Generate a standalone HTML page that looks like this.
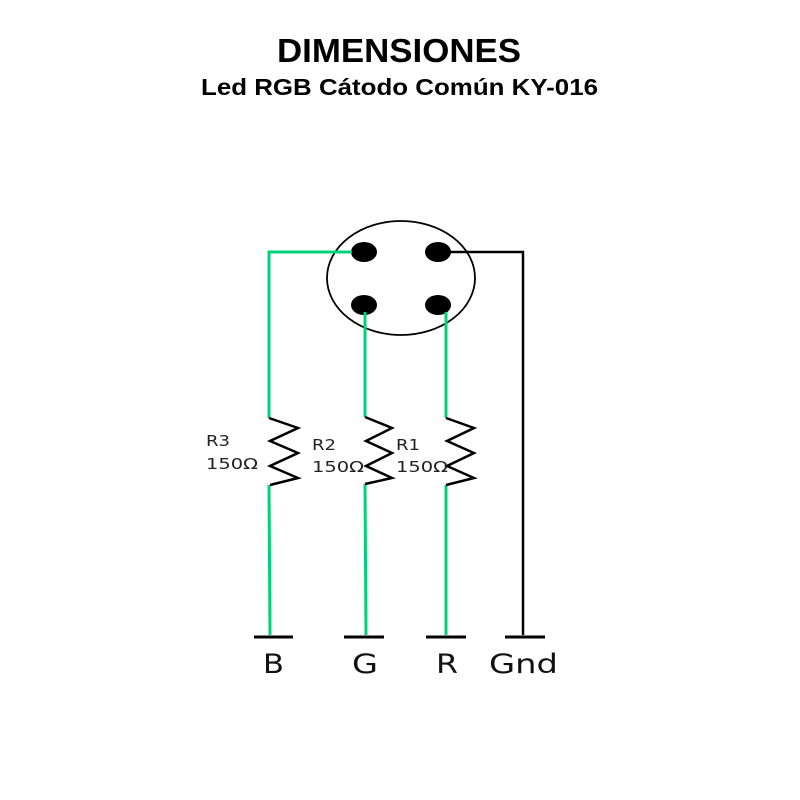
<!DOCTYPE html>
<html><head><meta charset="utf-8"><style>
html,body{margin:0;padding:0;background:#fff;}
svg{display:block;}
</style></head><body>
<svg width="800" height="800" viewBox="0 0 800 800" xmlns="http://www.w3.org/2000/svg">
<rect width="800" height="800" fill="#fff"/>
<text x="277" y="62" textLength="244" lengthAdjust="spacingAndGlyphs" font-family="Liberation Sans, sans-serif" font-weight="bold" font-size="33">DIMENSIONES</text>
<text x="201" y="95" textLength="397" lengthAdjust="spacingAndGlyphs" font-family="Liberation Sans, sans-serif" font-weight="bold" font-size="23">Led RGB Cátodo Común KY-016</text>

<ellipse cx="401" cy="278" rx="74" ry="57" fill="none" stroke="#000" stroke-width="1.8"/>
<g fill="#000">
<ellipse cx="364" cy="252" rx="13" ry="10"/>
<ellipse cx="438" cy="252" rx="13" ry="10"/>
<ellipse cx="364" cy="305" rx="13" ry="10"/>
<ellipse cx="438" cy="305" rx="13" ry="10"/>
</g>
<g fill="none" stroke="#00d27a" stroke-width="3">
<polyline points="352,252 269,252 269,418"/>
<line x1="269" y1="485" x2="270" y2="635"/>
<line x1="365" y1="312" x2="365" y2="417"/>
<line x1="365" y1="484" x2="366" y2="635"/>
<line x1="446" y1="312" x2="446" y2="418"/>
<line x1="446" y1="485" x2="446" y2="635"/>
</g>
<g fill="none" stroke="#000" stroke-width="2.5" stroke-linejoin="miter">
<polyline points="269,418 298,428 270,441 298,453 270,466 298,478 270,485"/>
<polyline points="365,417 392,428 366,441 392,453 366,466 392,478 365,484"/>
<polyline points="446,418 474,428 447,441 474,453 447,466 474,478 446,485"/>
</g>
<polyline points="450,252 523,252 523,635" fill="none" stroke="#000" stroke-width="2.5"/>
<g stroke="#000" stroke-width="3">
<line x1="254" y1="637" x2="293" y2="637"/>
<line x1="344" y1="637" x2="384" y2="637"/>
<line x1="426" y1="637" x2="466" y2="637"/>
<line x1="505" y1="637" x2="545" y2="637"/>
</g>
<g font-family="DejaVu Sans, sans-serif" font-size="15" fill="#222">
<text x="206" y="446" textLength="24" lengthAdjust="spacingAndGlyphs">R3</text>
<text x="206" y="469" textLength="52" lengthAdjust="spacingAndGlyphs">150Ω</text>
<text x="312" y="450" textLength="24" lengthAdjust="spacingAndGlyphs">R2</text>
<text x="312" y="472" textLength="52" lengthAdjust="spacingAndGlyphs">150Ω</text>
<text x="396" y="450" textLength="24" lengthAdjust="spacingAndGlyphs">R1</text>
<text x="396" y="472" textLength="52" lengthAdjust="spacingAndGlyphs">150Ω</text>
</g>
<g font-family="DejaVu Sans, sans-serif" font-size="27" fill="#111">
<text x="263" y="673" textLength="21" lengthAdjust="spacingAndGlyphs">B</text>
<text x="352" y="673" textLength="26" lengthAdjust="spacingAndGlyphs">G</text>
<text x="436" y="673" textLength="22" lengthAdjust="spacingAndGlyphs">R</text>
<text x="489" y="673" textLength="69" lengthAdjust="spacingAndGlyphs">Gnd</text>
</g>
</svg>
</body></html>
